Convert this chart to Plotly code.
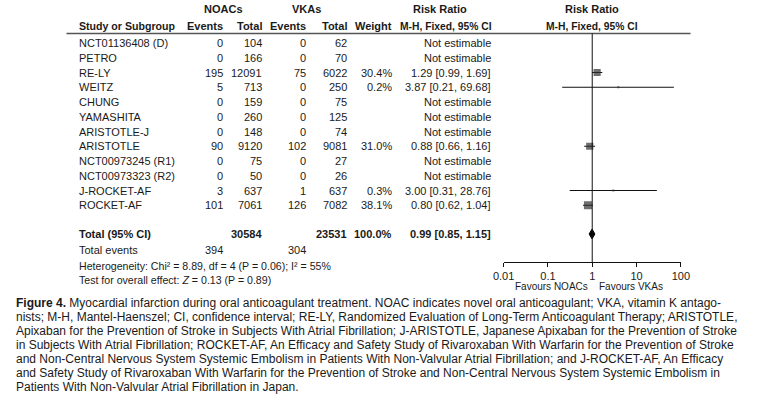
import plotly.graph_objects as go

# ---------------- data ----------------
studies = ["NCT01136408 (D)", "PETRO", "RE-LY", "WEITZ", "CHUNG", "YAMASHITA", "ARISTOTLE-J",
           "ARISTOTLE", "NCT00973245 (R1)", "NCT00973323 (R2)", "J-ROCKET-AF", "ROCKET-AF"]
noac_events = [0, 0, 195, 5, 0, 0, 0, 90, 0, 0, 3, 101]
noac_total = [104, 166, 12091, 713, 159, 260, 148, 9120, 75, 50, 637, 7061]
vka_events = [0, 0, 75, 0, 0, 0, 0, 102, 0, 0, 1, 126]
vka_total = [62, 70, 6022, 250, 75, 125, 74, 9081, 27, 26, 637, 7082]
weight = [None, None, 30.4, 0.2, None, None, None, 31.0, None, None, 0.3, 38.1]
rr = [None, None, 1.29, 3.87, None, None, None, 0.88, None, None, 3.00, 0.80]
rr_lo = [None, None, 0.99, 0.21, None, None, None, 0.66, None, None, 0.31, 0.62]
rr_hi = [None, None, 1.69, 69.68, None, None, None, 1.16, None, None, 28.76, 1.04]

total_noac = 30584
total_vka = 23531
total_weight = 100.0
total_rr, total_lo, total_hi = 0.99, 0.85, 1.15
events_noac_sum = 394
events_vka_sum = 304
heterogeneity = "Heterogeneity: Chi² = 8.89, df = 4 (P = 0.06); I² = 55%"
overall = "Test for overall effect: <i>Z</i> = 0.13 (P = 0.89)"

tick_vals = [0.01, 0.1, 1, 10, 100]
tick_text = ["0.01", "0.1", "1", "10", "100"]

caption_lines = [
    "<b>Figure 4.</b> Myocardial infarction during oral anticoagulant treatment. NOAC indicates novel oral anticoagulant; VKA, vitamin K antago-",
    "nists; M-H, Mantel-Haenszel; CI, confidence interval; RE-LY, Randomized Evaluation of Long-Term Anticoagulant Therapy; ARISTOTLE,",
    "Apixaban for the Prevention of Stroke in Subjects With Atrial Fibrillation; J-ARISTOTLE, Japanese Apixaban for the Prevention of Stroke",
    "in Subjects With Atrial Fibrillation; ROCKET-AF, An Efficacy and Safety Study of Rivaroxaban With Warfarin for the Prevention of Stroke",
    "and Non-Central Nervous System Systemic Embolism in Patients With Non-Valvular Atrial Fibrillation; and J-ROCKET-AF, An Efficacy",
    "and Safety Study of Rivaroxaban With Warfarin for the Prevention of Stroke and Non-Central Nervous System Systemic Embolism in",
    "Patients With Non-Valvular Atrial Fibrillation in Japan.",
]

# ---------------- layout constants ----------------
W, H = 757, 397
FONT = "Arial, Liberation Sans, sans-serif"
TXT = "#1a1a1a"
ROW0, STEP = 43.0, 14.75


def row_of(py):
    return (py - ROW0) / STEP


def px(x):
    return x / W


def py_paper(y):
    return 1 - y / H


fig = go.Figure()

# CI lines
xs, ys = [], []
for i in range(len(studies)):
    if rr[i] is not None:
        xs += [rr_lo[i], rr_hi[i], None]
        ys += [i, i, None]
fig.add_trace(go.Scatter(x=xs, y=ys, mode="lines", line=dict(color="#111", width=1),
                         hoverinfo="skip"))

# squares
idx = [i for i in range(len(studies)) if rr[i] is not None]
sizes = [max(2.0, 1.3 * (weight[i] ** 0.5)) for i in idx]
fig.add_trace(go.Scatter(x=[rr[i] for i in idx], y=idx, mode="markers",
                         marker=dict(symbol="square", size=sizes, color="#303030",
                                     line=dict(width=0))))

# diamond for total
tot_row = row_of(234)
dh = 0.33
fig.add_trace(go.Scatter(x=[total_lo, total_rr, total_hi, total_rr, total_lo],
                         y=[tot_row, tot_row - dh, tot_row, tot_row + dh, tot_row],
                         mode="lines", fill="toself", fillcolor="#000",
                         line=dict(color="#000", width=1)))

axis_py = 262
fig.update_layout(
    width=W, height=H, margin=dict(l=0, r=0, t=0, b=0),
    paper_bgcolor="white", plot_bgcolor="rgba(0,0,0,0)", showlegend=False,
    font=dict(family=FONT, size=11, color=TXT),
    xaxis=dict(type="log", range=[-2, 2], domain=[px(506), px(688)],
               anchor="free", position=py_paper(axis_py),
               showline=True, linecolor="#111", linewidth=1,
               ticks="outside", ticklen=4, tickcolor="#111", tickwidth=1,
               tickvals=tick_vals, ticktext=tick_text, showgrid=False, zeroline=False,
               tickfont=dict(size=11, color=TXT, family=FONT)),
    yaxis=dict(range=[(H - ROW0) / STEP, -ROW0 / STEP], domain=[0, 1], visible=False,
               showgrid=False, zeroline=False),
)

# header rule and null line
hdr_row = row_of(33.5)
fig.add_shape(type="line", xref="paper", yref="y", x0=px(57), x1=px(698), y0=hdr_row, y1=hdr_row,
              line=dict(color="#555", width=1.5))
fig.add_shape(type="line", xref="x", yref="y", x0=1, x1=1, y0=hdr_row, y1=row_of(axis_py),
              line=dict(color="#111", width=1))

ann = []


def T(text, x, row, anchor="left", bold=False, size=11, yref="y"):
    if bold:
        text = "<b>" + text + "</b>"
    ann.append(dict(text=text, x=px(x), xref="paper", y=row, yref=yref,
                    xanchor=anchor, yanchor="middle", showarrow=False,
                    font=dict(family=FONT, size=size, color=TXT)))


# headers
h1, h2 = row_of(9), row_of(26)
T("NOACs", 218, h1, "center", True)
T("VKAs", 304, h1, "center", True)
T("Risk Ratio", 441, h1, "center", True)
T("Risk Ratio", 597, h1, "center", True)
T("Study or Subgroup", 68, h2, "left", True, size=10.6)
T("Events", 220, h2, "right", True)
T("Total", 260, h2, "right", True)
T("Events", 305, h2, "right", True)
T("Total", 347, h2, "right", True)
T("Weight", 393, h2, "right", True)
T("M-H, Fixed, 95% CI", 496, h2, "right", True, size=10.3)
T("M-H, Fixed, 95% CI", 597, h2, "center", True, size=10.3)

# study rows
for i, s in enumerate(studies):
    T(s, 68, i)
    T(str(noac_events[i]), 220, i, "right")
    T(str(noac_total[i]), 260, i, "right")
    T(str(vka_events[i]), 305, i, "right")
    T(str(vka_total[i]), 347, i, "right")
    if weight[i] is not None:
        T(f"{weight[i]:.1f}%", 393, i, "right")
        T(f"{rr[i]:.2f} [{rr_lo[i]:.2f}, {rr_hi[i]:.2f}]", 495, i, "right")
    else:
        T("Not estimable", 495, i, "right")

# totals
T("Total (95% CI)", 68, tot_row, "left", True)
T(str(total_noac), 260, tot_row, "right", True)
T(str(total_vka), 347, tot_row, "right", True)
T(f"{total_weight:.1f}%", 393, tot_row, "right", True)
T(f"{total_rr:.2f} [{total_lo:.2f}, {total_hi:.2f}]", 495, tot_row, "right", True)
ev_row = row_of(250)
T("Total events", 68, ev_row)
T(str(events_noac_sum), 220, ev_row, "right")
T(str(events_vka_sum), 305, ev_row, "right")
T(heterogeneity, 68, row_of(265.5), size=10.6)
T(overall, 68, row_of(280), size=10.6)

# favours labels
T("Favours NOACs", 555, row_of(286), "center", size=10)
T("Favours VKAs", 637, row_of(286), "center", size=10)

# caption
cap_y = [303, 317, 331, 345, 359, 373, 387]
for line, y in zip(caption_lines, cap_y):
    ann.append(dict(text=line, x=px(3), xref="paper", y=py_paper(y), yref="paper",
                    xanchor="left", yanchor="middle", showarrow=False,
                    font=dict(family=FONT, size=12, color=TXT)))

fig.update_layout(annotations=ann)
fig.write_html("out.html", config={"displayModeBar": False, "staticPlot": True},
               post_script="document.body.style.margin='0';document.body.style.overflow='hidden';")
